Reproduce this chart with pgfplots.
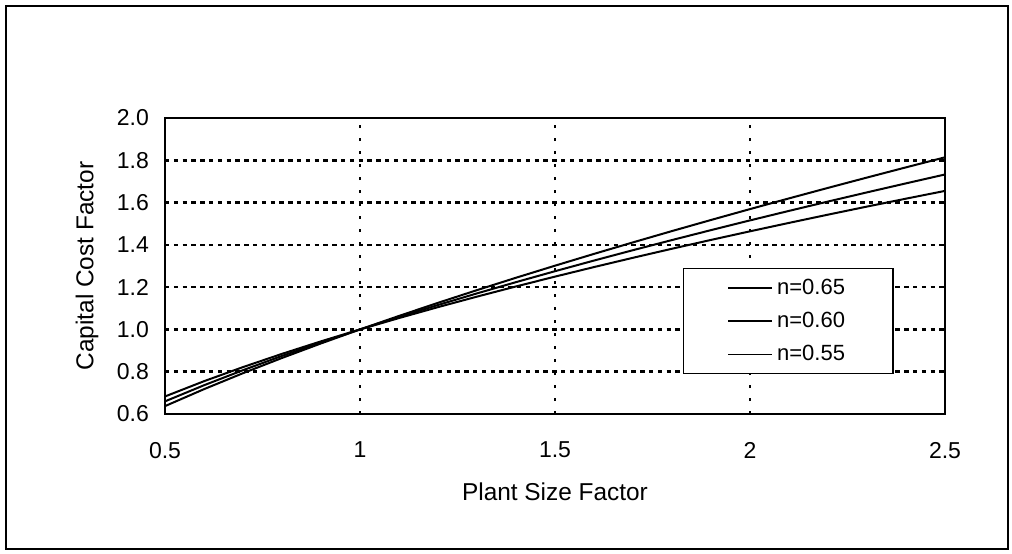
\documentclass[border=0pt]{standalone}
\usepackage{fontspec}
\setmainfont{Liberation Sans}
\usepackage{pgfplots}
\pgfplotsset{compat=1.18}
\begin{document}
\begin{tikzpicture}
\useasboundingbox (-82.5pt,-69.5pt) rectangle (423.5pt,207pt);
\draw[line width=0.9pt] (-79.5pt,-67.5pt) rectangle (421.5pt,204pt);
\begin{axis}[
  at={(0,0)}, anchor=south west,
  scale only axis,
  width=390pt, height=148pt,
  xmin=0.5, xmax=2.5, ymin=0.6, ymax=2.0,
  xtick={0.5,1,1.5,2,2.5},
  xticklabels={0.5,1,1.5,2,2.5},
  ytick={0.6,0.8,1.0,1.2,1.4,1.6,1.8,2.0},
  yticklabels={0.6,0.8,1.0,1.2,1.4,1.6,1.8,2.0},
  major tick length=0pt,
  xmajorgrids, ymajorgrids,
  x grid style={black, line width=0.6pt, dash pattern=on 1.5pt off 5pt},
  y grid style={black, line width=1.3pt, dash pattern=on 2.2pt off 2.2pt},
  axis line style={line width=1.3pt},
  tick label style={font=\fontsize{11.5}{13}\selectfont},
  xticklabel style={yshift=-10.5pt},
  yticklabel style={xshift=-4.5pt},
  label style={font=\fontsize{12.2}{14}\selectfont},
  xlabel={Plant Size Factor},
  ylabel={Capital Cost Factor},
  xlabel style={at={([yshift=-39pt]axis description cs:0.5,0)}, anchor=center},
  ylabel style={at={([xshift=-39pt]axis description cs:0,0.5)}, anchor=center},
  legend style={at={(axis cs:1.828,1.29)}, anchor=north west, draw=black,
    line width=0.6pt, fill=white, inner xsep=22pt, inner ysep=3pt,
    row sep=3.5pt,
    font=\fontsize{11}{13}\selectfont},
  legend cell align=left,
  legend image code/.code={\draw[line width=0.8pt] (0pt,0pt) -- (22pt,0pt);},
]
\addplot[black, line width=1pt] coordinates {
(0.5,0.6373)(0.6,0.7175)(0.7,0.7931)(0.8,0.8650)(0.9,0.9338)(1.0,1.0)
(1.1,1.0639)(1.2,1.1258)(1.3,1.1859)(1.4,1.2445)(1.5,1.3015)(1.6,1.3573)
(1.7,1.4118)(1.8,1.4653)(1.9,1.5177)(2.0,1.5692)(2.1,1.6198)(2.2,1.6695)
(2.3,1.7184)(2.4,1.7666)(2.5,1.8141)};
\addlegendentry{n=0.65}
\addplot[black, line width=1pt] coordinates {
(0.5,0.6598)(0.6,0.7360)(0.7,0.8073)(0.8,0.8747)(0.9,0.9387)(1.0,1.0)
(1.1,1.0589)(1.2,1.1156)(1.3,1.1705)(1.4,1.2237)(1.5,1.2754)(1.6,1.3258)
(1.7,1.3749)(1.8,1.4228)(1.9,1.4697)(2.0,1.5157)(2.1,1.5607)(2.2,1.6049)
(2.3,1.6483)(2.4,1.6909)(2.5,1.7329)};
\addlegendentry{n=0.60}
\addplot[black, line width=1pt] coordinates {
(0.5,0.6830)(0.6,0.7551)(0.7,0.8219)(0.8,0.8845)(0.9,0.9437)(1.0,1.0)
(1.1,1.0538)(1.2,1.1055)(1.3,1.1552)(1.4,1.2033)(1.5,1.2498)(1.6,1.2950)
(1.7,1.3389)(1.8,1.3817)(1.9,1.4234)(2.0,1.4641)(2.1,1.5039)(2.2,1.5429)
(2.3,1.5811)(2.4,1.6185)(2.5,1.6553)};
\addlegendentry{n=0.55}
\end{axis}
\end{tikzpicture}
\end{document}
